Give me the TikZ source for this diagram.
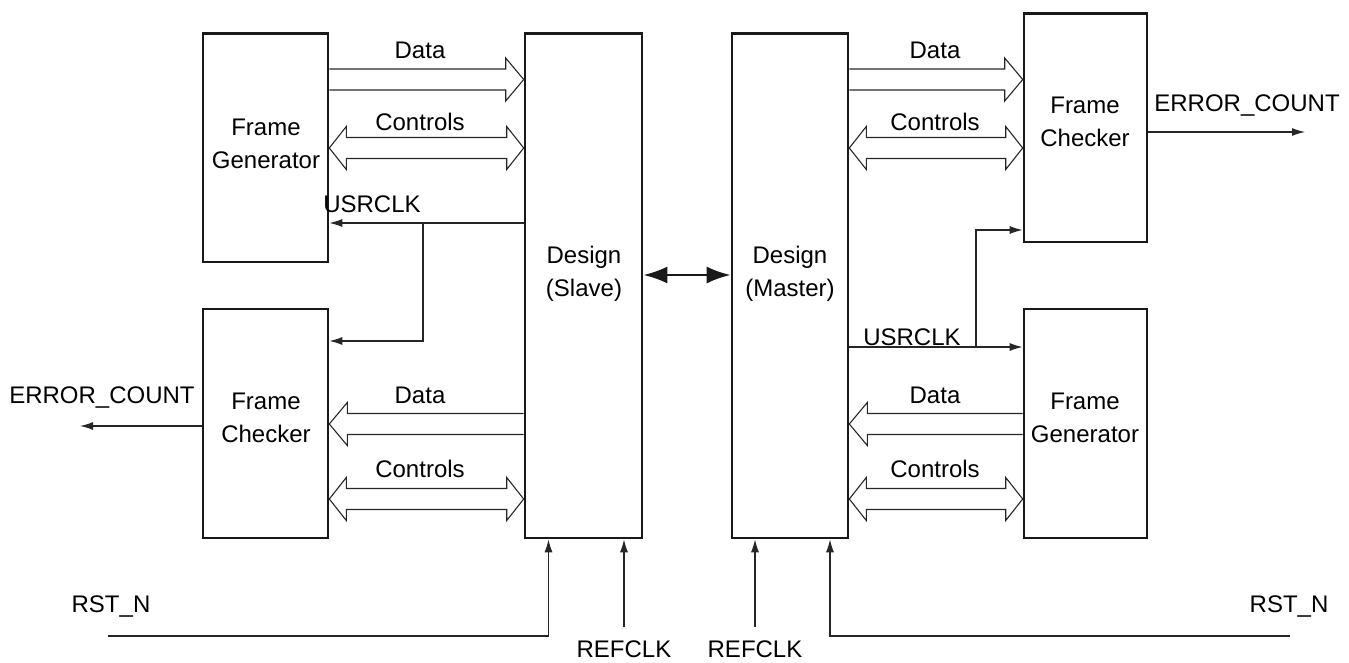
\documentclass[tikz,border=0pt]{standalone}
\usepackage{fontspec}
\setmainfont{Liberation Sans}
\usetikzlibrary{arrows.meta,calc}
\newcommand\hollowR[3]{\draw[hollow] ($(#1.east|-0,#3)+(0,-10.5)$) -- ($(#2.west|-0,#3)+(-18,-10.5)$) -- ++(0,-11) -- (#2.west|-0,#3) -- ++(-18,21.5) -- ++(0,-11) -- ($(#1.east|-0,#3)+(0,10.5)$);}
\newcommand\hollowL[3]{\draw[hollow] ($(#1.west|-0,#3)+(0,-10.5)$) -- ($(#2.east|-0,#3)+(18,-10.5)$) -- ++(0,-11) -- (#2.east|-0,#3) -- ++(18,21.5) -- ++(0,-11) -- ($(#1.west|-0,#3)+(0,10.5)$);}
\newcommand\hollowLR[3]{\draw[hollow] (#1.east|-0,#3) -- ++(17,-21.5) -- ++(0,11) -- ($(#2.west|-0,#3)+(-17,-10.5)$) -- ++(0,-11) -- (#2.west|-0,#3) -- ++(-17,21.5) -- ++(0,-11) -- ($(#1.east|-0,#3)+(17,10.5)$) -- ++(0,11) -- cycle;}
\begin{document}
\begin{tikzpicture}[x=1pt,y=-1pt,
  box/.style={draw=black!90, line width=2.6pt, inner sep=0pt, minimum width=#1},
  box/.default=125pt,
  lbl/.style={font=\fontsize{24}{33}\selectfont, inner sep=0pt, align=center},
  sig/.style={line width=1.2pt, draw=black!85, -{Latex[length=13pt,width=8pt]}},
  hollow/.style={line width=1.1pt, draw=black!85, line join=miter}]
\useasboundingbox (0,0) rectangle (1349,663);
% boxes
\node[box, minimum height=228.5pt] (fgL) at (265.5,147.75) {};
\node[box, minimum height=229pt] (fcL) at (265.5,423.5) {};
\node[box=117pt, minimum height=504.5pt] (slave) at (583.5,285.75) {};
\node[box=116pt, minimum height=504.5pt] (master) at (790,285.75) {};
\node[box=123pt, minimum height=228.5pt] (fcR) at (1085.5,127.75) {};
\node[box=123pt, minimum height=229pt] (fgR) at (1085.5,423.5) {};
% box texts
\node[lbl] (tfgL) at (266,144) {Frame\\Generator};
\node[lbl] (tfcL) at (266,418) {Frame\\Checker};
\node[lbl] (tslave) at (584,274) {Design\\(Slave)};
\node[lbl] (tmaster) at (790,274) {Design\\(Master)};
\node[lbl] (tfcR) at (1085,122) {Frame\\Checker};
\node[lbl] (tfgR) at (1085,418) {Frame\\Generator};
% left hollow buses
\hollowR{fgL}{slave}{79.5}
\hollowLR{fgL}{slave}{148}
\hollowL{slave}{fcL}{424}
\hollowLR{fcL}{slave}{499}
% right hollow buses
\hollowR{master}{fcR}{79.5}
\hollowLR{master}{fcR}{148}
\hollowL{fgR}{master}{424}
\hollowLR{master}{fgR}{499}
% bus labels
\node[lbl] (dL1) at (420,50) {Data};
\node[lbl] (cL1) at (420,122) {Controls};
\node[lbl] (dL2) at (420,395) {Data};
\node[lbl] (cL2) at (420,469) {Controls};
\node[lbl] (dR1) at (935,50) {Data};
\node[lbl] (cR1) at (935,122) {Controls};
\node[lbl] (dR2) at (935,395) {Data};
\node[lbl] (cR2) at (935,469) {Controls};
% USRCLK
\coordinate (bl) at (423,223);
\draw[sig] (slave.west|-bl) -- (fgL.east|-bl);
\draw[sig] (bl) |- (fcL.east|-0,341);
\node[lbl] (uL) at (372,204) {USRCLK};
\coordinate (br) at (976,347);
\draw[sig] (master.east|-br) -- (fgR.west|-br);
\draw[sig] (br) |- (fcR.west|-0,230);
\node[lbl] (uR) at (912,337) {USRCLK};
% design link
\draw[line width=2.6pt, draw=black!90, {Latex[length=24pt,width=17pt]}-{Latex[length=24pt,width=17pt]}] (slave.east|-0,275) -- (master.west|-0,275);
% ERROR_COUNT
\coordinate (ecl) at (80,426);
\draw[sig] (fcL.west|-ecl) -- (ecl);
\node[lbl] (tecl) at (102,398) {ERROR\_COUNT};
\coordinate (ecr) at (1305,132);
\draw[sig] (fcR.east|-ecr) -- (ecr);
\node[lbl] (tecr) at (1247,106) {ERROR\_COUNT};
% RST_N
\coordinate (rstl) at (108,636);
\draw[sig] (rstl) -| ($(slave.south)+(-35,0)$);
\node[lbl] (trstl) at (111,607) {RST\_N};
\coordinate (rstr) at (1290,636);
\draw[sig] (rstr) -| ($(master.south)+(40,0)$);
\node[lbl] (trstr) at (1289,607) {RST\_N};
% REFCLK
\coordinate (refs) at (624,627);
\draw[sig] (refs) -- (slave.south-|refs);
\node[lbl] (trefs) at (624,649) {REFCLK};
\coordinate (refm) at (755,627);
\draw[sig] (refm) -- (master.south-|refm);
\node[lbl] (trefm) at (755,649) {REFCLK};
\end{tikzpicture}
\end{document}
